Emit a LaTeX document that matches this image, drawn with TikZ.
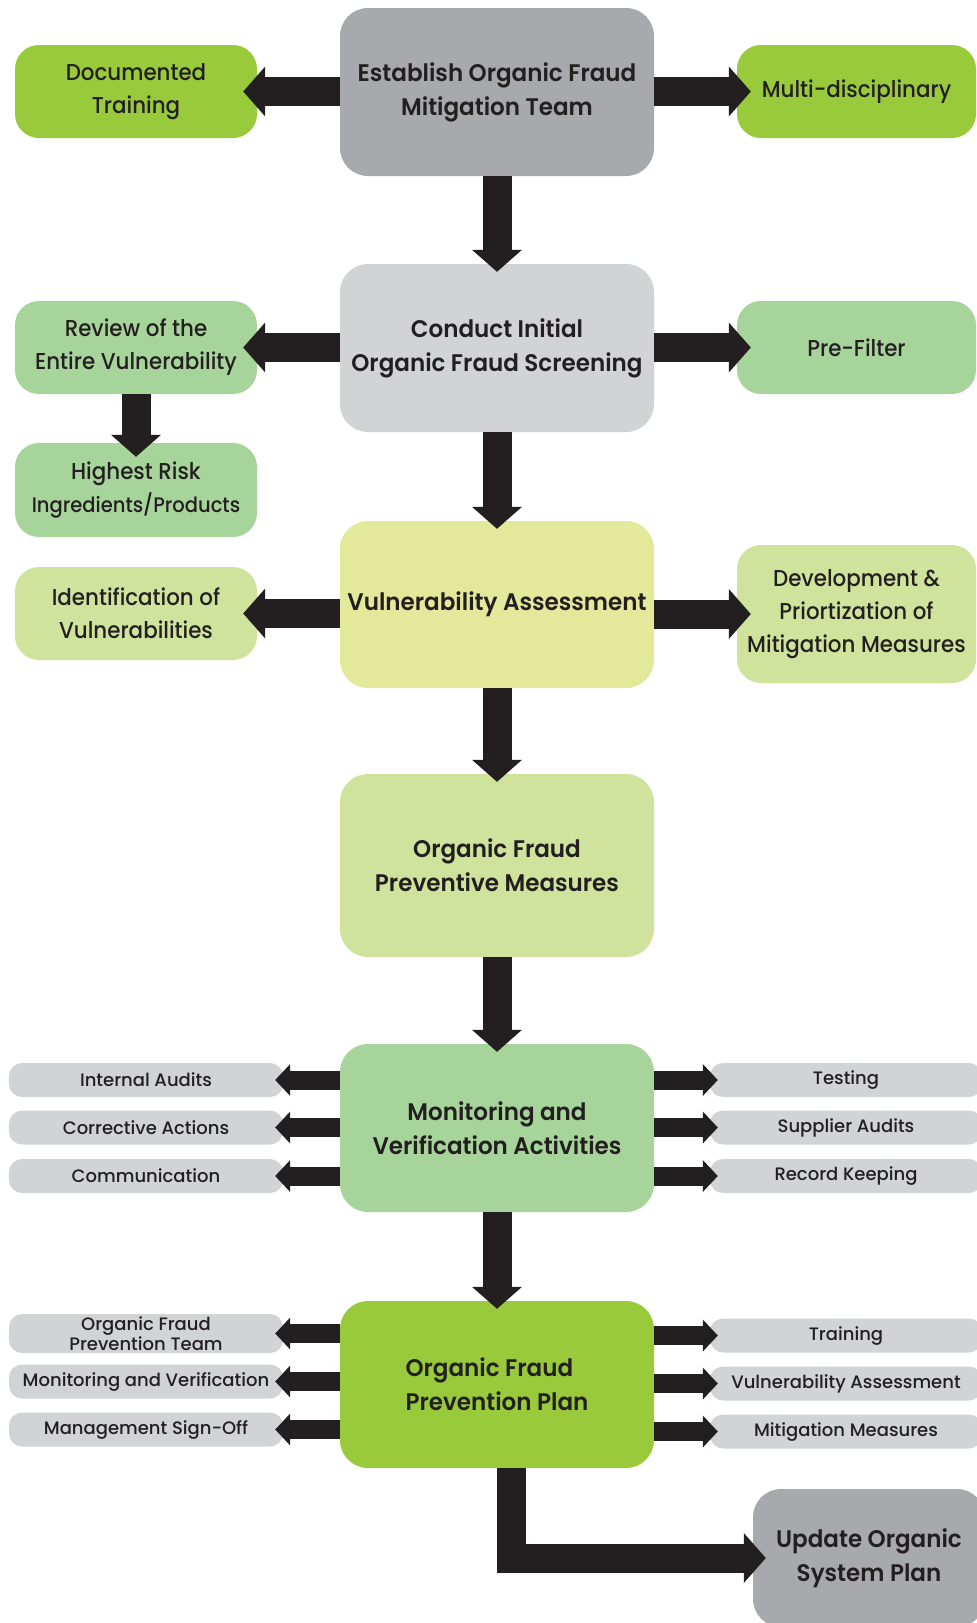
\documentclass[tikz,border=0pt]{standalone}
\usepackage{fontspec}
\setmainfont{Poppins}[UprightFont=* Medium, BoldFont=* SemiBold]
\newfontfamily\mainf{Poppins}[UprightFont=* SemiBold, FakeStretch=0.96]
\newfontfamily\sidef{Poppins}[UprightFont=* Medium, FakeStretch=0.93]
\newfontfamily\pillf{Poppins}[UprightFont=* Medium, FakeStretch=1.0]
\usetikzlibrary{arrows.meta}
\definecolor{gdark}{HTML}{A7A9AC}
\definecolor{glight}{HTML}{D1D3D4}
\definecolor{gbright}{HTML}{99CA3C}
\definecolor{gsoft}{HTML}{A6D49A}
\definecolor{ypale}{HTML}{E2E99A}
\definecolor{gpale}{HTML}{D0E39C}
\definecolor{ink}{HTML}{231F20}
\begin{document}
\begin{tikzpicture}[x=1pt,y=-1pt,
 mainbox/.style={rounded corners=28pt, minimum width=314pt, inner sep=0pt, align=center, text=ink, font=\mainf\fontsize{24}{34}\selectfont},
 sidebox/.style={rounded corners=24pt, minimum height=93pt, inner sep=0pt, align=center, text=ink, font=\sidef\fontsize{23}{33}\selectfont},
 pill/.style={rounded corners=13pt, minimum height=34pt, inner sep=0pt, fill=glight, text=ink, font=\pillf\fontsize{18}{17}\selectfont, align=center},
 bigarrow/.style={draw=ink, line width=29pt, -{Triangle[length=22pt,width=50pt,line width=0pt]}, shorten >=-14pt},
 downarrow/.style={draw=ink, line width=29pt, -{Triangle[length=22pt,width=50pt,line width=0pt]}, shorten >=-8pt},
 smallarrow/.style={draw=ink, line width=19pt, -{Triangle[length=15pt,width=32pt,line width=0pt]}, shorten >=-8pt}
]
\useasboundingbox (0,0) rectangle (977,1623);
% main column
\node[mainbox, fill=gdark, minimum height=168pt] (b1) at (497,92) {Establish Organic Fraud\\Mitigation Team};
\node[mainbox, fill=glight, minimum height=168pt] (b2) at (497,348) {Conduct Initial\\Organic Fraud Screening};
\node[mainbox, fill=ypale, minimum height=167pt] (b3) at (497,604.5) {Vulnerability Assessment};
\node[mainbox, fill=gpale, minimum height=183pt] (b4) at (497,865.5) {Organic Fraud\\Preventive Measures};
\node[mainbox, fill=gsoft, minimum height=168pt] (b5) at (497,1128) {Monitoring and\\Verification Activities};
\node[mainbox, fill=gbright, minimum height=167pt, align=left] (b6) at (497,1384.5) {Organic Fraud\\Prevention Plan};
\node[mainbox, fill=gdark, minimum width=232pt, minimum height=138pt] (up) at (869,1558) {Update Organic\\System Plan};
% side boxes
\node[sidebox, fill=gbright, minimum width=242pt] (dt) at (136,91.5) {Documented\\Training};
\node[sidebox, fill=gbright, minimum width=239pt] (md) at (856.5,91.5) {Multi-disciplinary};
\node[sidebox, fill=gsoft, minimum width=242pt] (rv) at (136,347.5) {Review of the\\Entire Vulnerability};
\node[sidebox, fill=gsoft, minimum width=242pt, minimum height=94pt] (hr) at (136,490) {Highest Risk\\{\fontsize{21}{33}\selectfont Ingredients/Products}};
\node[sidebox, fill=gsoft, minimum width=239pt] (pf) at (856.5,347.5) {Pre-Filter};
\node[sidebox, fill=gpale, minimum width=242pt] (iv) at (136,613.5) {Identification of\\Vulnerabilities};
\node[sidebox, fill=gpale, minimum width=239pt, minimum height=138pt] (dp) at (856.5,614) {Development \&\\Priortization of\\Mitigation Measures};
% pills
\node[pill, minimum width=274pt] (ia) at (146,1080) {Internal Audits};
\node[pill, minimum width=274pt] (ca) at (146,1127.5) {Corrective Actions};
\node[pill, minimum width=274pt] (cm) at (146,1176) {Communication};
\node[pill, minimum width=272pt] (te) at (846,1080) {Testing};
\node[pill, minimum width=272pt] (sa) at (846,1127.5) {Supplier Audits};
\node[pill, minimum width=272pt] (rk) at (846,1176) {Record Keeping};
\node[pill, minimum width=274pt, minimum height=39pt] (ft) at (146,1333.5) {Organic Fraud\\Prevention Team};
\node[pill, minimum width=274pt] (mv) at (146,1381.5) {Monitoring and Verification};
\node[pill, minimum width=274pt] (ms) at (146,1429.5) {Management Sign-Off};
\node[pill, minimum width=272pt] (tr) at (846,1335.5) {Training};
\node[pill, minimum width=272pt] (va) at (846,1383.5) {Vulnerability Assessment};
\node[pill, minimum width=272pt] (mm) at (846,1431.5) {Mitigation Measures};
% arrows
\draw[bigarrow] (b1.west |- dt.east) -- (dt.east);
\draw[bigarrow] (b1.east |- md.west) -- (md.west);
\draw[downarrow] (b1.south) -- (b2.north);
\draw[bigarrow] (b2.west |- rv.east) -- (rv.east);
\draw[bigarrow] (b2.east |- pf.west) -- (pf.west);
\draw[downarrow, shorten >=-14pt] (rv.south) -- (hr.north);
\draw[downarrow] (b2.south) -- (b3.north);
\draw[bigarrow] (b3.west |- iv.east) -- (iv.east);
\draw[bigarrow] (b3.east |- dp.west) -- (dp.west);
\draw[downarrow] (b3.south) -- (b4.north);
\draw[downarrow] (b4.south) -- (b5.north);
\draw[smallarrow] (b5.west |- ia.east) -- (ia.east);
\draw[smallarrow] (b5.west |- ca.east) -- (ca.east);
\draw[smallarrow] (b5.west |- cm.east) -- (cm.east);
\draw[smallarrow] (b5.east |- te.west) -- (te.west);
\draw[smallarrow] (b5.east |- sa.west) -- (sa.west);
\draw[smallarrow] (b5.east |- rk.west) -- (rk.west);
\draw[downarrow] (b5.south) -- (b6.north);
\draw[smallarrow] (b6.west |- ft.east) -- (ft.east);
\draw[smallarrow] (b6.west |- mv.east) -- (mv.east);
\draw[smallarrow] (b6.west |- ms.east) -- (ms.east);
\draw[smallarrow] (b6.east |- tr.west) -- (tr.west);
\draw[smallarrow] (b6.east |- va.west) -- (va.west);
\draw[smallarrow] (b6.east |- mm.west) -- (mm.west);
\draw[bigarrow, shorten >=-13pt, line join=miter] ([xshift=14pt]b6.south) |- (up.west);
\end{tikzpicture}
\end{document}
